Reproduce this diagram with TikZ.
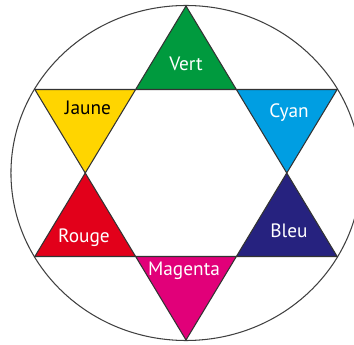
\documentclass[tikz,border=0pt]{standalone}
\usepackage{fontspec}
\setmainfont{PT Sans}
\usetikzlibrary{calc}
\definecolor{colVert}{RGB}{0,154,62}
\definecolor{colJaune}{RGB}{255,213,0}
\definecolor{colCyan}{RGB}{0,158,226}
\definecolor{colBleu}{RGB}{38,34,127}
\definecolor{colRouge}{RGB}{226,0,26}
\definecolor{colMagenta}{RGB}{225,0,121}
\tikzset{
    tri/.style = {draw=black!80, line width=0.6pt, line join=miter},
    lbl/.style = {font=\fontsize{11}{13}\selectfont, text=white, inner sep=0pt}
}

\begin{document}
\begin{tikzpicture}[x=0.02cm, y=0.02cm]
    \useasboundingbox (-186,-171) rectangle (168,173);

    \begin{scope}[xscale=1.045]
        % Outer circle
        \draw[black!75, line width=0.6pt] (0,0) circle (167.5);

        % Star points (outer) and inner hexagon
        \coordinate (pV) at (90:167);
        \coordinate (pC) at (30:167);
        \coordinate (pB) at (-30:167);
        \coordinate (pM) at (-90:167);
        \coordinate (pR) at (-150:167);
        \coordinate (pJ) at (150:167);
        \foreach \a in {0,60,...,300}
            \coordinate (h\a) at (\a:96.4);

        % Triangles
        \draw[tri, fill=colVert] (pV) -- (h60) -- (h120) -- cycle;
        \draw[tri, fill=colCyan] (pC) -- (h0) -- (h60) -- cycle;
        \draw[tri, fill=colBleu] (pB) -- (h300) -- (h0) -- cycle;
        \draw[tri, fill=colMagenta] (pM) -- (h240) -- (h300) -- cycle;
        \draw[tri, fill=colRouge] (pR) -- (h180) -- (h240) -- cycle;
        \draw[tri, fill=colJaune] (pJ) -- (h120) -- (h180) -- cycle;
    \end{scope}

    % Labels
    \node[lbl] (lVert) at (0,109) {Vert};
    \node[lbl, text=black] (lJaune) at (-98,65) {Jaune};
    \node[lbl] (lCyan) at (103,60) {Cyan};
    \node[lbl] (lRouge) at (-102,-65) {Rouge};
    \node[lbl] (lBleu) at (103,-58) {Bleu};
    \node[lbl] (lMagenta) at (-2,-98) {Magenta};

\end{tikzpicture}
\end{document}
